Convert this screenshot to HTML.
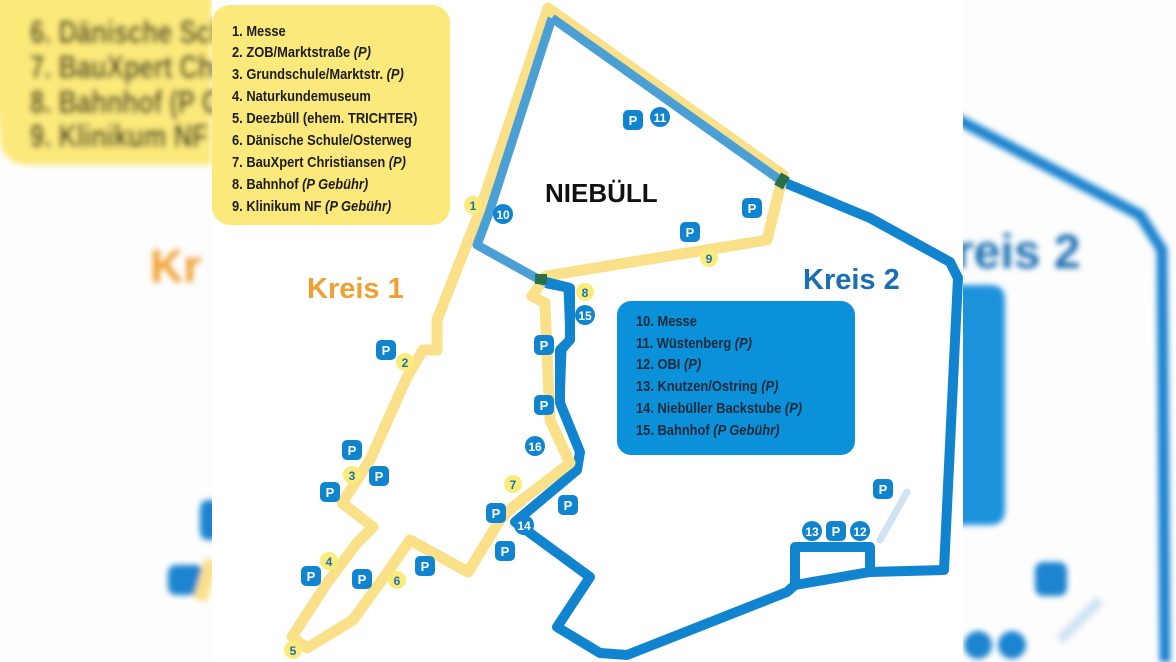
<!DOCTYPE html>
<html><head><meta charset="utf-8"><style>
html,body{margin:0;padding:0;background:#fff;}
svg{display:block;}
.t{font-family:"Liberation Sans",sans-serif;font-weight:bold;}
</style></head><body>
<svg width="1176" height="662" viewBox="0 0 1176 662" xmlns="http://www.w3.org/2000/svg">
<defs>
<filter id="bl" x="-20%" y="-20%" width="140%" height="140%"><feGaussianBlur stdDeviation="3"/></filter>
</defs>
<rect width="1176" height="662" fill="#fdfdfd"/>
<!-- left blurred side -->
<g filter="url(#bl)">
  <path d="M-20,-20 H212 V165 H30 Q0,165 0,135 Z" fill="#fbe97a"/>
  <g class="t" fill="#1a1a10" font-size="32" transform="translate(30,0) scale(0.8,1)">
    <text x="0" y="43">6.  Dänische Schule</text>
    <text x="0" y="78">7.  BauXpert Christ</text>
    <text x="0" y="113">8.  Bahnhof (P Geb</text>
    <text x="0" y="147">9.  Klinikum NF (P</text>
  </g>
  <text x="150" y="282" font-family="Liberation Sans,sans-serif" font-weight="bold" font-size="46" fill="#f0a030">Kr</text>
  <rect x="168" y="565" width="36" height="30" rx="8" fill="#1a84d0"/>
  <rect x="200" y="500" width="20" height="40" rx="8" fill="#1a84d0"/>
  <path d="M212,560 L200,600" stroke="#fbe08a" stroke-width="14"/>
</g>
<!-- right blurred side -->
<g filter="url(#bl)">
  <path d="M955,118 L1140,215 L1162,250 L1165,662" stroke="#1a84d0" stroke-width="11" fill="none"/>
  <text x="955" y="268" font-family="Liberation Sans,sans-serif" font-weight="bold" font-size="48" fill="#1a6fb3">reis 2</text>
  <path d="M950,285 H990 Q1005,285 1005,300 V510 Q1005,525 990,525 H950 Z" fill="#1a92dc"/>
  <rect x="1035" y="562" width="32" height="34" rx="8" fill="#1a84d0"/>
  <path d="M1060,640 L1100,600" stroke="#cfe3f2" stroke-width="10"/>
  <circle cx="978" cy="645" r="14" fill="#1a84d0"/>
  <circle cx="1012" cy="645" r="14" fill="#1a84d0"/>
</g>
<!-- center panel -->
<rect x="212" y="0" width="751" height="662" fill="#ffffff"/>

<!-- yellow box -->
<rect x="212" y="5" width="238" height="220" rx="18" fill="#fbe97c"/>
<g class="t" font-size="15" fill="#1d1d1b" transform="translate(232,0) scale(0.86,1)">
<text x="0" y="36">1.  Messe</text>
<text x="0" y="57">2.  ZOB/Marktstraße <tspan font-style="italic">(P)</tspan></text>
<text x="0" y="79">3.  Grundschule/Marktstr. <tspan font-style="italic">(P)</tspan></text>
<text x="0" y="101">4.  Naturkundemuseum</text>
<text x="0" y="123">5.  Deezbüll (ehem. TRICHTER)</text>
<text x="0" y="145">6.  Dänische Schule/Osterweg</text>
<text x="0" y="167">7.  BauXpert Christiansen <tspan font-style="italic">(P)</tspan></text>
<text x="0" y="189">8.  Bahnhof <tspan font-style="italic">(P Gebühr)</tspan></text>
<text x="0" y="211">9.  Klinikum NF <tspan font-style="italic">(P Gebühr)</tspan></text>
</g>

<!-- blue Kreis 2 right/bottom route -->
<path d="M783,182 L870,218 L950,262 L958,278 L944,570 L870,572 L870,547 L795,547 L795,585 L787,592 L627,655 L600,653 L557,627 L590,577 L515,522 L577,470 L580,452 L560,403 L560,350 L570,340 L570,288 L545,283" stroke="#1184d0" stroke-width="10" fill="none" stroke-linejoin="round"/>
<path d="M795,585 L870,572" stroke="#1184d0" stroke-width="10" fill="none"/>
<path d="M880,540 L907,492" stroke="#cfe3f2" stroke-width="7" stroke-linecap="round"/>

<!-- yellow Kreis 1 route -->
<path d="M548,8 L783,175 L767,240 L546,276 L532,296 L545,303 L547,353 L550,420 L570,463 L513,507 L500,520 L468,572 L410,540 L387,573 L353,620 L307,648 L292,637 L327,583 L357,543 L373,527 L342,503 L370,460 L407,377 L423,350 L437,350 L437,320 L479,213 Z" stroke="#fbe08a" stroke-width="11" fill="none" stroke-linejoin="round"/>
<!-- blue inner top triangle -->
<path d="M552,18 L780,180 M552,18 L489,213 L477,245 L540,280" stroke="#4a9fd4" stroke-width="9" fill="none" stroke-linejoin="round"/>
<path d="M540,280 L568,287 L570,340 L562,350 L560,403" stroke="#1184d0" stroke-width="9" fill="none" stroke-linejoin="round"/>
<rect x="777" y="174" width="10" height="14" fill="#2a6e4a" transform="rotate(30 782 181)"/>
<rect x="535" y="274" width="12" height="10" fill="#2a6e4a"/>

<!-- text labels -->
<text x="545" y="202" font-family="Liberation Sans,sans-serif" font-weight="bold" font-size="26" fill="#111">NIEBÜLL</text>
<text x="307" y="298" font-family="Liberation Sans,sans-serif" font-weight="bold" font-size="29" fill="#f0a030">Kreis 1</text>
<text x="803" y="289" font-family="Liberation Sans,sans-serif" font-weight="bold" font-size="29" fill="#1a6fb3">Kreis 2</text>

<!-- blue box -->
<rect x="617" y="301" width="238" height="154" rx="14" fill="#0a91d9"/>
<g class="t" font-size="15" fill="#1b2a3a" transform="translate(636,0) scale(0.86,1)">
<text x="0" y="326">10.   Messe</text>
<text x="0" y="348">11.   Wüstenberg <tspan font-style="italic">(P)</tspan></text>
<text x="0" y="369">12.   OBI <tspan font-style="italic">(P)</tspan></text>
<text x="0" y="391">13.   Knutzen/Ostring <tspan font-style="italic">(P)</tspan></text>
<text x="0" y="413">14.   Niebüller Backstube <tspan font-style="italic">(P)</tspan></text>
<text x="0" y="435">15.   Bahnhof <tspan font-style="italic">(P Gebühr)</tspan></text>
</g>

<!-- yellow number circles -->
<g class="t" font-size="12" text-anchor="middle" fill="#1a6fb3">
<g fill="#fbec7a">
<circle cx="473" cy="205" r="9"/><circle cx="405" cy="362" r="9"/><circle cx="352" cy="475" r="9"/>
<circle cx="329" cy="561" r="9"/><circle cx="293" cy="650" r="9"/><circle cx="397" cy="580" r="9"/>
<circle cx="513" cy="484" r="9"/><circle cx="585" cy="292" r="9"/><circle cx="709" cy="258" r="9"/>
</g>
<text x="473" y="210">1</text><text x="405" y="367">2</text><text x="352" y="480">3</text>
<text x="329" y="566">4</text><text x="293" y="655">5</text><text x="397" y="585">6</text>
<text x="513" y="489">7</text><text x="585" y="297">8</text><text x="709" y="263">9</text>
</g>
<!-- blue number circles -->
<g class="t" font-size="12" text-anchor="middle" fill="#fff">
<g fill="#1184d0">
<circle cx="503" cy="214" r="10"/><circle cx="660" cy="117" r="10"/><circle cx="585" cy="315" r="10"/>
<circle cx="535" cy="446" r="10"/><circle cx="524" cy="525" r="10"/><circle cx="812" cy="531" r="10"/><circle cx="860" cy="531" r="10"/>
</g>
<text x="503" y="219">10</text><text x="660" y="122">11</text><text x="585" y="320">15</text>
<text x="535" y="451">16</text><text x="524" y="530">14</text><text x="812" y="536">13</text><text x="860" y="536">12</text>
</g>
<!-- P icons -->
<g class="t" font-size="13" text-anchor="middle">
<g fill="#1184d0">
<rect x="623" y="110" width="20" height="20" rx="5"/><rect x="742" y="198" width="20" height="20" rx="5"/>
<rect x="680" y="222" width="20" height="20" rx="5"/><rect x="376" y="340" width="20" height="20" rx="5"/>
<rect x="534" y="335" width="20" height="20" rx="5"/><rect x="534" y="395" width="20" height="20" rx="5"/>
<rect x="342" y="440" width="20" height="20" rx="5"/><rect x="369" y="466" width="20" height="20" rx="5"/>
<rect x="320" y="482" width="20" height="20" rx="5"/><rect x="558" y="495" width="20" height="20" rx="5"/>
<rect x="486" y="503" width="20" height="20" rx="5"/><rect x="495" y="541" width="20" height="20" rx="5"/>
<rect x="301" y="566" width="20" height="20" rx="5"/><rect x="352" y="569" width="20" height="20" rx="5"/>
<rect x="415" y="556" width="20" height="20" rx="5"/><rect x="826" y="521" width="20" height="20" rx="5"/>
<rect x="873" y="479" width="20" height="20" rx="5"/>
</g>
<g fill="#fff">
<text x="633" y="125">P</text><text x="752" y="213">P</text><text x="690" y="237">P</text><text x="386" y="355">P</text>
<text x="544" y="350">P</text><text x="544" y="410">P</text><text x="352" y="455">P</text><text x="379" y="481">P</text>
<text x="330" y="497">P</text><text x="568" y="510">P</text><text x="496" y="518">P</text><text x="505" y="556">P</text>
<text x="311" y="581">P</text><text x="362" y="584">P</text><text x="425" y="571">P</text><text x="836" y="536">P</text>
<text x="883" y="494">P</text>
</g>
</g>
</svg>
</body></html>
